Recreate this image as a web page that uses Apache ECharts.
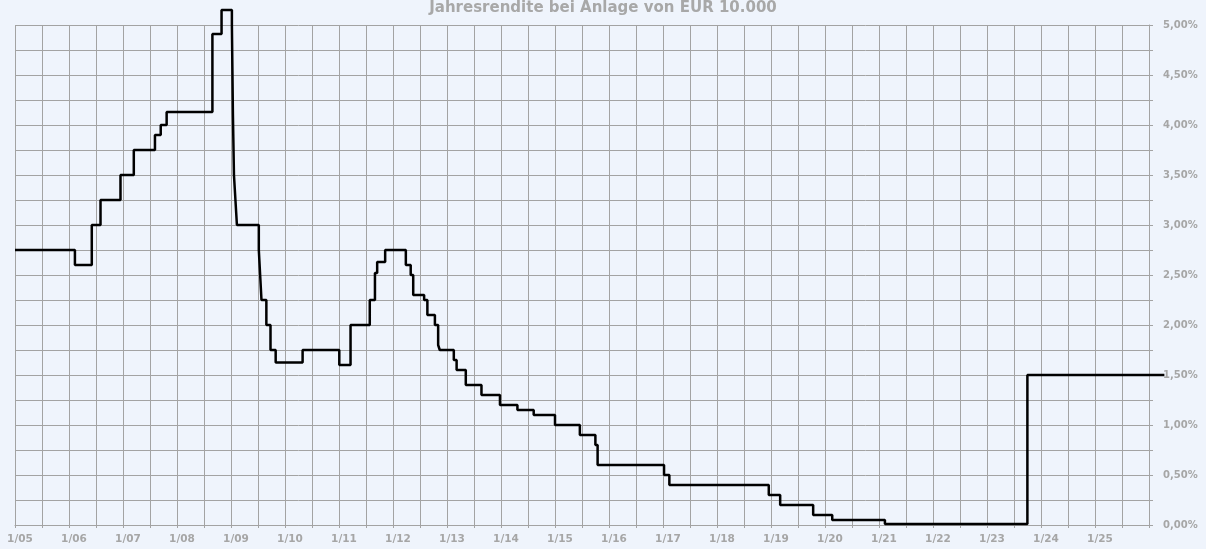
<!DOCTYPE html>
<html>
<head>
<meta charset="utf-8">
<script src="https://cdn.jsdelivr.net/npm/echarts@6/dist/echarts.min.js"></script>
<style>
html,body{margin:0;padding:0;background:#eff4fc;}
#chart{width:1206px;height:549px;}
</style>
</head>
<body>
<div id="chart"></div>
<script>
// Step dates (start of each rate level) and rates in %
const stepDates = [
  '2005-01-01','2006-02-10','2006-06-04','2006-08-02','2006-12-15','2007-03-15',
  '2007-08-05','2007-09-13','2007-10-23','2008-08-28','2008-10-29','2009-01-07',
  '2009-01-14','2009-01-21','2009-01-31','2009-02-10','2009-07-08','2009-07-17',
  '2009-07-26','2009-08-28','2009-09-25','2009-10-30','2010-04-30','2011-01-03',
  '2011-03-20','2011-07-28','2011-09-01','2011-09-16','2011-11-09','2012-03-28',
  '2012-04-30','2012-05-17','2012-07-30','2012-08-21','2012-10-11','2012-11-02',
  '2012-11-13','2013-02-16','2013-03-07','2013-05-08','2013-08-22','2013-12-25',
  '2014-04-22','2014-08-10','2015-01-01','2015-06-18','2015-10-01','2015-10-16',
  '2017-01-08','2017-02-13','2018-12-17','2019-03-04','2019-10-13','2020-02-19',
  '2021-02-10','2023-10-01','2026-04-15'
];
const rates = [
  2.75,2.60,3.00,3.25,3.50,3.75,
  3.90,4.00,4.13,4.91,5.15,5.00,
  4.10,3.50,3.25,3.00,2.75,2.50,
  2.25,2.00,1.75,1.625,1.75,1.60,
  2.00,2.25,2.52,2.63,2.75,2.60,
  2.50,2.30,2.25,2.10,2.00,1.80,
  1.75,1.65,1.55,1.40,1.30,1.20,
  1.15,1.10,1.00,0.90,0.80,0.60,
  0.50,0.40,0.30,0.20,0.10,0.05,
  0.01,1.50,1.50
];
const xTickLabels = ['1/05','1/06','1/07','1/08','1/09','1/10','1/11','1/12','1/13','1/14',
  '1/15','1/16','1/17','1/18','1/19','1/20','1/21','1/22','1/23','1/24','1/25'];
const titleText = 'Jahresrendite bei Anlage von EUR 10.000';

function toYear(s){
  const p = s.split('-').map(Number);
  const ms = Date.UTC(p[0], p[1]-1, p[2]);
  const y0 = Date.UTC(p[0],0,1), y1 = Date.UTC(p[0]+1,0,1);
  return p[0] + (ms - y0)/(y1 - y0);
}
const data = stepDates.map((d,i)=>[toYear(d), rates[i]]);

const W = 1206;
const gLeft = 15, gTop = 25, gRight = 57, gBottom = 24;
const xMin = 2005, xMax = 2026;
// the curve runs a little past the last axis date (as in the original), so it is
// drawn on an invisible grid with the same scale that reaches further right
const extraRight = 17;
const pxPerYear = (W - gLeft - gRight) / (xMax - xMin);
const xMaxWide = xMax + extraRight / pxPerYear;

const gridColor = '#a3a3a3';
const labelColor = '#a6a6a6';
const chart = echarts.init(document.getElementById('chart'), null, {renderer:'canvas'});
chart.setOption({
  backgroundColor: '#eff4fc',
  animation: false,
  title: {
    text: titleText,
    left: 'center',
    top: -4,
    textStyle: {fontFamily:'DejaVu Sans', fontWeight:'bold', fontSize:15, color:'#a8a8a8'}
  },
  grid: [
    {left:gLeft, top:gTop, right:gRight, bottom:gBottom, containLabel:false},
    {left:gLeft, top:gTop, right:gRight - extraRight, bottom:gBottom, containLabel:false}
  ],
  xAxis: [{
    type:'value', min:xMin, max:xMax, interval:0.5, gridIndex:0,
    axisLine:{show:true, lineStyle:{color:gridColor, width:1}},
    axisTick:{show:true, length:3, lineStyle:{color:gridColor}},
    splitLine:{show:true, lineStyle:{color:gridColor, width:1}},
    axisLabel:{
      margin:9, padding:[0,0,0,10],
      fontFamily:'DejaVu Sans', fontWeight:'bold', fontSize:10.5, color:labelColor,
      formatter:function(v){
        const r = Math.round(v*2)/2;
        if (r % 1 !== 0) return '';
        const idx = r - 2005;
        return xTickLabels[idx] || '';
      }
    }
  },{
    type:'value', min:xMin, max:xMaxWide, gridIndex:1, show:false
  }],
  yAxis: [{
    type:'value', position:'right', min:0, max:5, interval:0.25, gridIndex:0,
    axisLine:{show:true, lineStyle:{color:gridColor, width:1}},
    axisTick:{show:true, length:4, lineStyle:{color:gridColor},
      interval:function(i){ return i % 2 === 0; }},
    splitLine:{show:true, lineStyle:{color:gridColor, width:1}},
    axisLabel:{
      margin:14,
      fontFamily:'DejaVu Sans', fontWeight:'bold', fontSize:10, color:labelColor,
      formatter:function(v){
        const q = Math.round(v*4);
        if (q % 2 !== 0) return '';
        return (q/4).toFixed(2).replace('.', ',') + '%';
      }
    }
  },{
    type:'value', min:0, max:5, gridIndex:1, show:false
  }],
  series: [{
    type:'line', step:'end', data:data, clip:false,
    xAxisIndex:1, yAxisIndex:1,
    symbol:'none', showSymbol:false,
    lineStyle:{color:'#000000', width:2.5},
    z:5
  }]
});
</script>
</body>
</html>
